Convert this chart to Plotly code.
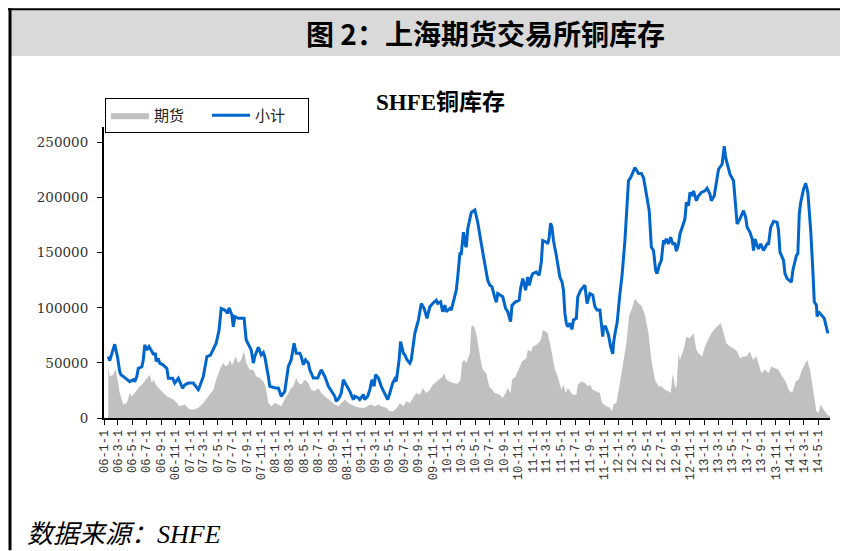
import pandas as pd
import plotly.graph_objects as go

# ---------------- data (months since 2006-01-01, values in tonnes) ----------------
total_months = [
    0.6, 0.8, 1.5, 1.9, 2.2, 2.4, 2.7, 3.2, 3.6, 4.1, 4.3, 4.6, 4.8, 5.3, 5.5, 5.7, 6.0, 6.3, 6.6, 6.9,
    7.2, 7.3, 7.6, 7.8, 8.3, 8.8, 9.0, 9.6, 9.9, 10.4, 11.0, 11.3, 11.8, 12.5, 13.2, 13.3, 13.9, 14.4, 14.9, 15.3,
    15.7, 16.1, 16.4, 16.9, 17.3, 17.5, 17.9, 18.1, 18.3, 18.8, 19.6, 19.9, 20.6, 20.9, 21.1, 21.6, 22.0, 22.3, 22.5, 23.0,
    23.2, 24.0, 24.4, 24.8, 25.3, 25.8, 26.2, 26.6, 26.9, 27.4, 27.6, 27.9, 28.2, 28.6, 28.8, 29.3, 29.9, 30.4, 30.9, 31.4,
    31.8, 32.3, 32.5, 32.9, 33.2, 33.5, 34.0, 34.4, 34.9, 35.1, 35.6, 35.8, 36.3, 36.5, 36.9, 37.2, 37.5, 37.8, 38.0, 38.4,
    38.8, 39.3, 39.7, 40.0, 40.4, 40.7, 40.9, 41.3, 41.5, 41.9, 42.1, 42.4, 42.8, 43.0, 43.5, 43.9, 44.0, 44.4, 44.8, 45.2,
    45.6, 46.0, 46.5, 46.7, 47.1, 47.4, 47.7, 47.9, 48.4, 48.6, 49.0, 49.3, 49.5, 49.8, 50.0, 50.1, 50.3, 50.6, 50.7, 50.9,
    51.4, 51.9, 52.3, 52.8, 53.3, 53.7, 54.0, 54.3, 54.6, 54.9, 55.1, 55.4, 55.8, 56.2, 56.5, 56.9, 57.1, 57.6, 58.1, 58.3,
    58.6, 58.9, 59.0, 59.3, 59.5, 59.8, 60.0, 60.5, 60.9, 61.2, 61.4, 61.9, 62.1, 62.3, 62.5, 62.7, 62.9, 63.3, 63.8, 64.1,
    64.3, 64.5, 64.7, 64.9, 65.2, 65.5, 65.7, 66.1, 66.3, 66.7, 67.3, 67.6, 68.0, 68.4, 68.7, 69.0, 69.4, 69.6, 69.8, 69.9,
    70.2, 70.6, 70.9, 71.2, 71.3, 71.6, 71.8, 72.2, 72.5, 72.9, 73.4, 73.7, 74.1, 74.3, 74.8, 75.2, 75.5, 75.9, 76.3, 76.6,
    76.9, 77.2, 77.4, 77.7, 78.0, 78.3, 78.5, 78.7, 79.0, 79.3, 79.6, 79.9, 80.1, 80.4, 80.6, 81.0, 81.3, 81.5, 81.8, 82.0,
    82.3, 82.5, 82.9, 83.2, 83.6, 84.1, 84.4, 84.8, 85.0, 85.4, 85.7, 86.0, 86.5, 86.8, 87.0, 87.3, 87.6, 88.1, 88.3, 88.6,
    89.0, 89.5, 89.8, 90.0, 90.4, 90.7, 90.9, 91.1, 91.4, 91.6, 91.9, 92.1, 92.3, 92.8, 93.0, 93.3, 93.7, 94.2, 94.4, 94.6,
    95.1, 95.3, 95.6, 96.2, 96.4, 96.9, 97.1, 97.3, 97.5, 97.9, 98.2, 98.5, 98.9, 99.2, 99.4, 99.7, 99.8, 100.0, 100.4, 100.8,
    101.3,
]
total_values = [
    55800, 52000, 66900, 55000, 42000, 39000, 37700, 34700, 33000, 34700, 33000, 37700, 45000, 46500, 52800, 66300, 61800, 64800, 61800, 58000,
    58000, 51300, 54000, 49800, 48000, 45000, 36000, 36000, 31700, 36000, 27000, 30000, 31700, 31700, 25700, 27000, 37700, 55800, 57000, 61800,
    67800, 79800, 99400, 97900, 95000, 100000, 93400, 82800, 92000, 90400, 90400, 70800, 61800, 49800, 55800, 64200, 57300, 59400, 55800, 37700,
    28700, 27200, 27200, 19700, 24200, 46800, 52800, 67800, 58800, 58800, 55800, 48300, 52800, 49800, 43800, 36200, 36200, 43800, 37700, 28700,
    24200, 19700, 15200, 18200, 22700, 34700, 28700, 24200, 16700, 19700, 18200, 16700, 21200, 16700, 19700, 25700, 34700, 28700, 39200, 36200,
    28700, 21200, 16700, 22700, 31700, 35300, 33200, 52800, 69300, 58800, 57300, 52800, 49800, 52800, 76800, 86400, 88900, 103900, 99400, 90400,
    100900, 103900, 106900, 103900, 105400, 96400, 102400, 96400, 99400, 97900, 106900, 116000, 128000, 149000, 149000, 156500, 168500, 156500, 155000, 171500,
    186500, 188700, 177500, 158000, 140000, 125000, 120400, 119000, 111400, 105000, 112900, 111400, 110000, 99400, 96400, 87400, 102400, 105400, 106900, 117400,
    126400, 118900, 115900, 127900, 120400, 127900, 130900, 132400, 129400, 141500, 161000, 159500, 158000, 164000, 176700, 173000, 161000, 147500, 127900, 123400,
    115900, 94900, 85900, 82800, 85900, 80400, 88900, 90400, 109900, 115900, 120400, 103900, 112900, 111400, 100900, 97900, 97900, 85900, 73800, 82800,
    82800, 75300, 64800, 58200, 67800, 79800, 85900, 112900, 129400, 161000, 215200, 218200, 224200, 227200, 221800, 221800, 218200, 201600, 188000, 155000,
    152000, 134000, 131000, 138500, 143000, 161000, 159500, 162500, 158000, 164000, 158000, 158000, 151400, 158000, 167000, 174600, 180600, 195600, 192600, 204600,
    201600, 206100, 197100, 201600, 204600, 206100, 208500, 203100, 197100, 201600, 215200, 225700, 230200, 246700, 236200, 227200, 221200, 215200, 197100, 176100,
    180600, 188100, 182100, 173000, 168500, 162500, 152000, 162500, 156500, 153500, 158000, 155000, 152000, 158000, 158000, 173000, 178500, 177500, 170000, 150500,
    143000, 131000, 126400, 123400, 133900, 147500, 149000, 185000, 195600, 207600, 213000, 204600, 170000, 134000, 105400, 102400, 91900, 96400, 93400, 90400,
    76800,
]

futures_months = [
    0.6, 0.8, 1.3, 1.6, 1.9, 2.2, 2.7, 3.2, 3.6, 3.9, 4.3, 4.8, 5.5, 6.0, 6.4, 6.7, 6.9, 7.4, 7.8, 8.3,
    8.8, 9.2, 9.7, 10.2, 10.6, 11.3, 12.0, 12.7, 13.2, 13.9, 14.6, 15.3, 15.7, 16.2, 16.4, 16.7, 17.0, 17.4, 17.6, 17.9,
    18.1, 18.4, 18.8, 19.2, 19.6, 19.9, 20.4, 20.9, 21.3, 21.8, 22.3, 22.6, 23.0, 23.4, 23.9, 24.4, 24.8, 25.3, 25.8, 26.2,
    26.5, 26.9, 27.2, 27.6, 28.1, 28.6, 29.0, 29.5, 30.0, 30.4, 30.9, 31.4, 31.8, 32.3, 32.8, 33.2, 33.7, 34.2, 34.6, 35.1,
    35.8, 36.5, 37.0, 37.4, 37.9, 38.4, 38.8, 39.5, 40.0, 40.5, 41.0, 41.4, 41.9, 42.3, 42.8, 43.2, 43.7, 44.2, 44.6, 45.1,
    45.6, 46.0, 46.5, 47.0, 47.4, 47.6, 47.9, 48.4, 48.8, 49.5, 49.9, 50.1, 50.4, 50.7, 51.2, 51.4, 51.7, 52.1, 52.5, 52.7,
    53.0, 53.5, 53.9, 54.3, 54.7, 55.4, 55.8, 56.2, 56.5, 56.9, 57.1, 57.6, 58.1, 58.5, 59.1, 59.3, 59.8, 60.0, 60.5, 61.0,
    61.2, 61.4, 61.9, 62.1, 62.6, 63.1, 63.5, 64.0, 64.3, 64.6, 64.9, 65.3, 65.6, 66.1, 66.3, 66.8, 67.3, 67.7, 68.0, 68.4,
    68.9, 69.4, 69.7, 70.3, 70.8, 71.1, 71.3, 71.7, 72.2, 72.6, 73.1, 73.5, 73.9, 74.3, 74.8, 75.2, 75.7, 76.2, 76.6, 77.1,
    77.6, 78.0, 78.5, 79.0, 79.3, 79.6, 79.9, 80.1, 80.4, 80.6, 81.1, 81.5, 82.0, 82.5, 82.9, 83.2, 83.7, 84.1, 84.6, 85.0,
    85.5, 86.0, 86.3, 86.6, 87.1, 87.6, 88.1, 88.6, 89.0, 89.5, 89.9, 90.4, 90.8, 91.3, 91.7, 92.0, 92.5, 93.0, 93.4, 93.9,
    94.4, 94.9, 95.4, 95.8, 96.3, 96.8, 97.2, 97.7, 98.1, 98.4, 98.8, 99.3, 99.7, 100.0, 100.3, 100.7, 101.2, 101.6,
]
futures_values = [
    46800, 37700, 39200, 45000, 35000, 22700, 12200, 13700, 22700, 19700, 22700, 27200, 31700, 36200, 39200, 31700, 34700, 28700, 25700, 22700,
    19700, 18200, 16700, 13700, 10700, 12200, 7700, 7700, 9200, 13700, 19700, 25700, 34700, 43700, 46800, 49800, 46800, 48300, 52800, 48300,
    49800, 55800, 49800, 52800, 60300, 49800, 43700, 43700, 37700, 36200, 33200, 28700, 13700, 10700, 13700, 12200, 10700, 16700, 22700, 27200,
    28700, 36200, 31700, 30200, 34700, 31700, 25700, 24200, 27200, 22700, 19700, 16700, 15200, 12200, 10700, 13700, 16700, 13700, 12200, 10700,
    9200, 9200, 11300, 12200, 10700, 12200, 10700, 9200, 6200, 6200, 9200, 13700, 10700, 15200, 13700, 18200, 22700, 21200, 27200, 22700,
    25700, 30200, 33200, 36200, 37700, 40700, 34700, 33200, 31700, 31100, 34700, 49800, 52800, 49800, 58800, 82800, 84300, 76800, 58800, 52800,
    43800, 40700, 28700, 25700, 22700, 21200, 18200, 22700, 27200, 22700, 34700, 37700, 45300, 51300, 54300, 61800, 60300, 64800, 66300, 69300,
    72300, 79800, 78300, 76800, 61800, 43800, 37700, 25700, 30200, 22700, 27200, 24200, 21200, 21200, 30200, 33200, 31700, 28700, 30200, 25700,
    24200, 22700, 13700, 10700, 9200, 6200, 12200, 13700, 31700, 49800, 67800, 93400, 99400, 108400, 103900, 102400, 93400, 76800, 52800, 34700,
    28700, 28700, 25700, 24200, 22700, 40700, 28700, 27200, 58800, 52800, 61800, 73800, 72300, 76800, 61800, 58800, 55800, 64800, 72300, 76800,
    81300, 84300, 85900, 79800, 67800, 64800, 63300, 60300, 54300, 55800, 55800, 60300, 52800, 55800, 46800, 40700, 43800, 40700, 46800, 45300,
    43800, 37700, 33200, 25700, 22700, 33200, 34700, 43800, 49800, 52800, 43800, 22700, 6200, 4700, 12200, 7700, 3200, 1700,
]

start_date = pd.Timestamp("2006-01-01")
tick_dates = list(pd.date_range("2006-01-01", "2014-05-01", freq="2MS"))
tick_labels = [f"{d.year % 100:02d}-{d.month}-1" for d in tick_dates]
y_ticks = [0, 50000, 100000, 150000, 200000, 250000]
series_names = ["期货", "小计"]


def to_dates(months):
    return [start_date + pd.Timedelta(days=m * 30.4375) for m in months]


# ---------------- layout helpers ----------------
# The page body has an 8px margin, so the figure is 8px smaller and
# reference (page) pixel positions are converted to paper coordinates.
OFF = 8
W, H = 848 - OFF, 551 - OFF
L, R, T, B = 104 - OFF, 18, 127 - OFF, 132.5
PW, PH = W - L - R, H - T - B


def px(x):
    return (x - OFF - L) / PW


def py(y):
    return (H - B - (y - OFF)) / PH


fig = go.Figure()
fig.add_trace(go.Scatter(
    x=to_dates(futures_months), y=futures_values, name=series_names[0],
    mode="lines", fill="tozeroy", fillcolor="#c0c0c0",
    line=dict(color="#c0c0c0", width=0),
))
fig.add_trace(go.Scatter(
    x=to_dates(total_months), y=total_values, name=series_names[1],
    mode="lines", line=dict(color="#0066cc", width=3),
))

serif = "DejaVu Serif, Liberation Serif, Noto Sans CJK SC, serif"
fig.update_layout(
    width=W, height=H,
    margin=dict(l=L, r=R, t=T, b=B, autoexpand=False),
    paper_bgcolor="white", plot_bgcolor="white",
    showlegend=True,
    legend=dict(
        orientation="h", x=px(105), y=py(98), xanchor="left", yanchor="top",
        bgcolor="white", bordercolor="black", borderwidth=1,
        font=dict(family="Noto Sans CJK SC, sans-serif", size=15, color="#222"),
        itemwidth=38, entrywidth=48,
    ),
    xaxis=dict(
        type="date",
        range=[start_date, start_date + pd.Timedelta(days=101.6 * 30.4375)],
        tickmode="array", tickvals=tick_dates, ticktext=tick_labels,
        tickangle=-90, ticks="outside", ticklen=5, tickcolor="black", tickwidth=1,
        showline=True, linecolor="black", linewidth=2,
        showgrid=False, zeroline=False,
        tickfont=dict(family="Liberation Mono, monospace", size=12, color="#333"),
    ),
    yaxis=dict(
        range=[0, 264000],
        tickmode="array", tickvals=y_ticks, ticktext=[str(v) for v in y_ticks],
        ticks="outside", ticklen=5, tickcolor="black", tickwidth=1,
        showline=True, linecolor="black", linewidth=2,
        showgrid=False, zeroline=False,
        ticklabelstandoff=6,
        tickfont=dict(family=serif, size=13.5, color="#333"),
    ),
    shapes=[
        # gray title band
        dict(type="rect", xref="paper", yref="paper", x0=px(10), x1=px(848), y0=py(56), y1=py(9),
             fillcolor="#d9d9d9", line=dict(width=0), layer="below"),
        # top border
        dict(type="line", xref="paper", yref="paper", x0=px(8), x1=px(848), y0=py(9), y1=py(9),
             line=dict(color="black", width=2)),
        # left border
        dict(type="line", xref="paper", yref="paper", x0=px(10), x1=px(10), y0=py(8), y1=py(551),
             line=dict(color="black", width=3)),
    ],
    annotations=[
        dict(text="<b>图 2：上海期货交易所铜库存</b>", xref="paper", yref="paper",
             x=px(485), y=py(33), xanchor="center", yanchor="middle", showarrow=False,
             font=dict(family="Noto Sans CJK SC, sans-serif", size=28, color="black")),
        dict(text="<b>SHFE铜库存</b>", xref="paper", yref="paper",
             x=px(440), y=py(102), xanchor="center", yanchor="middle", showarrow=False,
             font=dict(family="Liberation Serif, Noto Sans CJK SC, serif", size=23, color="black")),
        dict(text="数据来源：SHFE", xref="paper", yref="paper",
             x=px(25), y=py(535), xanchor="left", yanchor="middle", showarrow=False,
             font=dict(family="Liberation Serif, Noto Sans CJK SC, serif", size=26, color="black",
                       style="italic")),
    ],
)

fig.write_html("out.html")
